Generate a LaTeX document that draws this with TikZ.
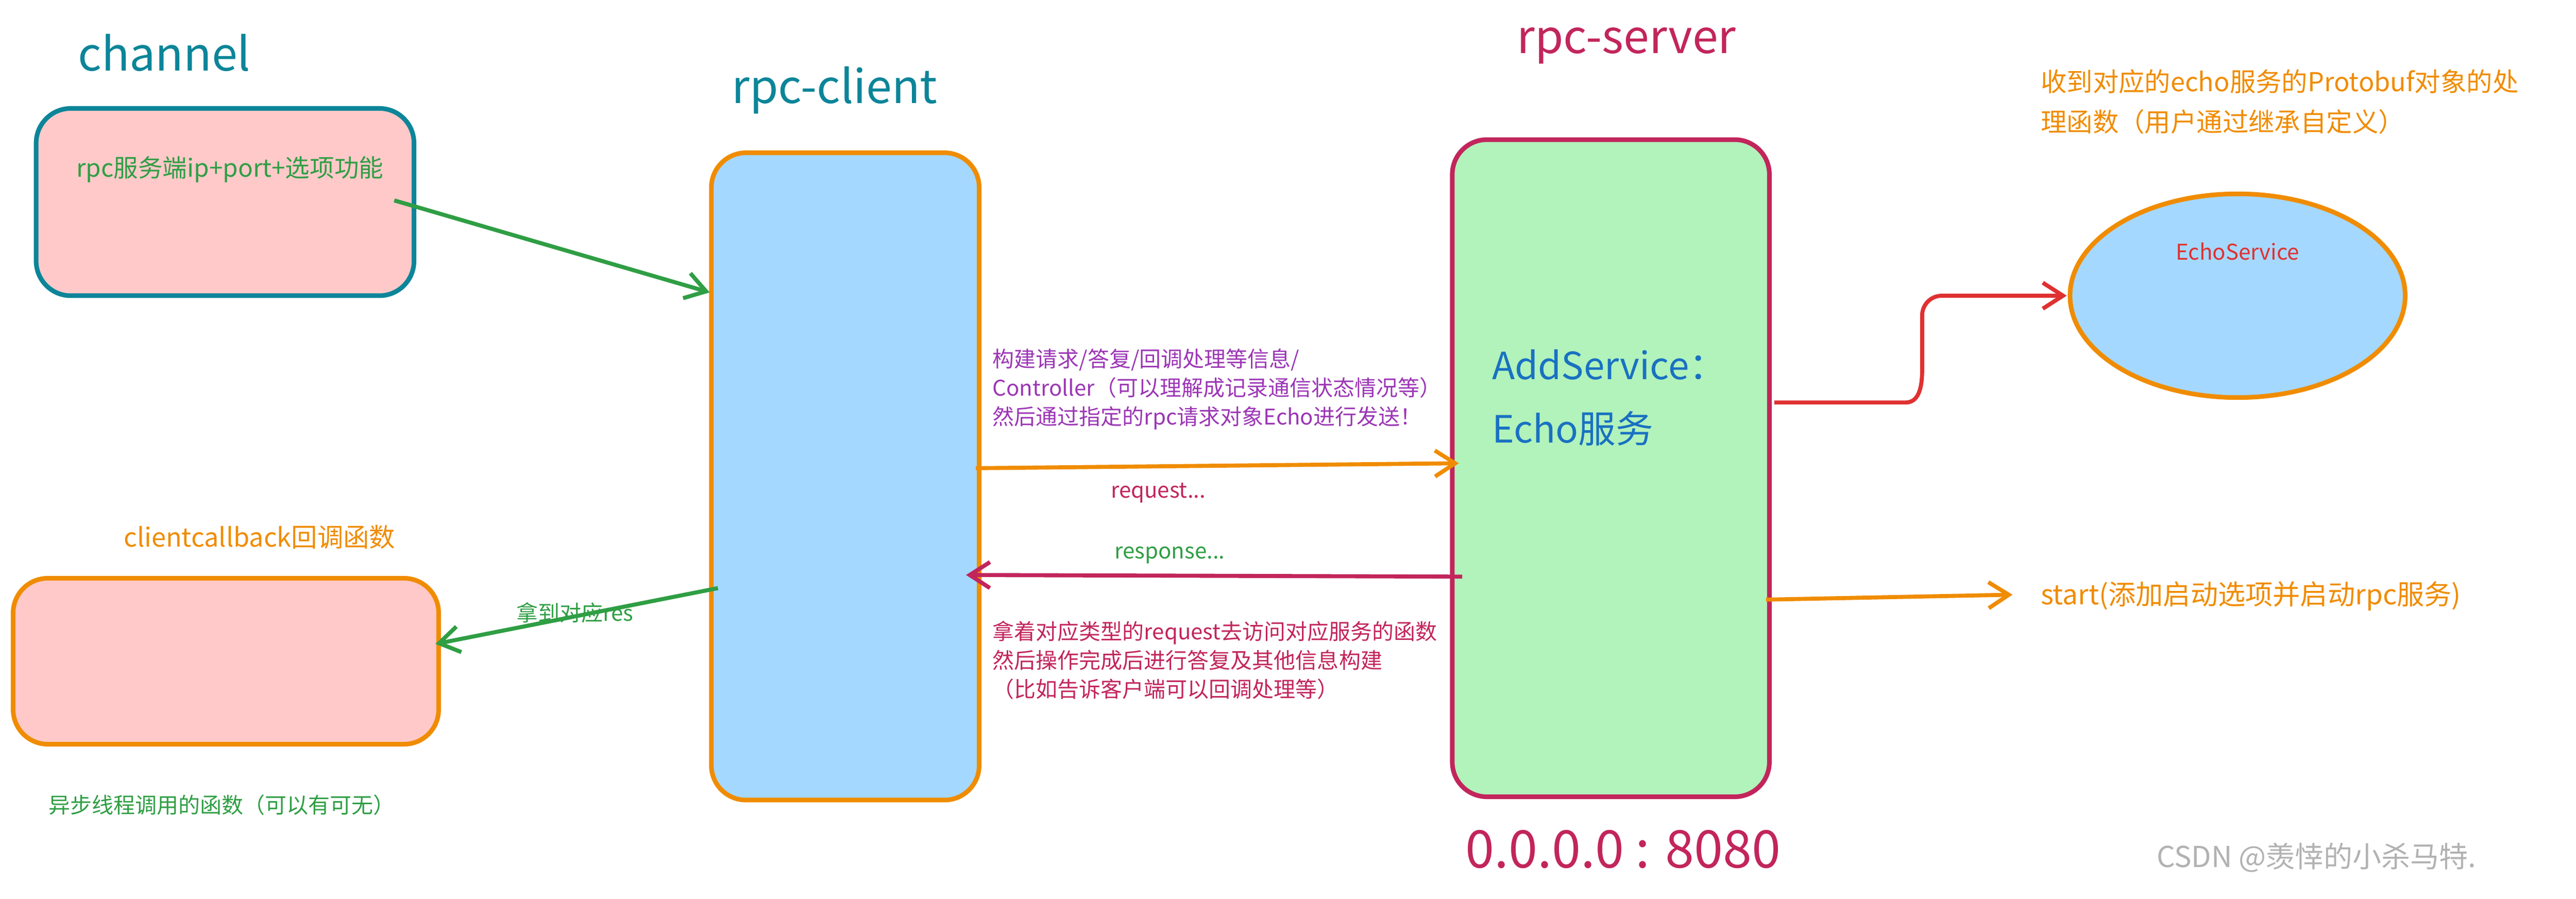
\documentclass[tikz,border=0pt]{standalone}
\usepackage{fontspec}
\setmainfont{Noto Sans CJK SC}
\usetikzlibrary{arrows.meta}
\definecolor{teal}{HTML}{0C8599}
\definecolor{crim}{HTML}{C2255C}
\definecolor{org}{HTML}{F08C00}
\definecolor{grn}{HTML}{2F9E44}
\definecolor{pur}{HTML}{9C36B5}
\definecolor{blu}{HTML}{1971C2}
\definecolor{pinkf}{HTML}{FFC9C9}
\definecolor{bluef}{HTML}{A5D8FF}
\definecolor{grnf}{HTML}{B2F2BB}
\definecolor{redc}{HTML}{E03131}
\begin{document}
\begin{tikzpicture}[x=0.02cm,y=-0.02cm,
  box/.style={draw,line width=1.6pt,rounded corners=12pt},
  arr/.style={line width=1.4pt,-{Straight Barb[length=7pt,width=9pt]}},
  title/.style={font=\fontsize{16}{18}\selectfont},
  small/.style={font=\fontsize{7.5}{10}\selectfont,align=left}]
\useasboundingbox (0,0) rectangle (1568,547);
\node[title,text=teal] (t1) at (100,32) {channel};
\node[title,text=teal] (t2) at (508,55) {rpc-client};
\node[title,text=crim] (t3) at (990,28) {rpc-server};
\draw[box,fill=pinkf,draw=teal] (22,66) rectangle (252,180);
\node[small,text=grn,font=\fontsize{8.5}{10}\selectfont] (ct) at (140,103) {rpc服务端ip+port+选项功能};
\draw[box,fill=bluef,draw=org] (433,93) rectangle (596,487);
\draw[box,fill=grnf,draw=crim] (884,85) rectangle (1077,485);
\node[anchor=west,text=blu,font=\fontsize{13}{22}\selectfont,align=left] (as) at (902,242) {AddService：\\Echo服务};
\node[text=crim,font=\fontsize{18}{20}\selectfont] (ip) at (988,517) {0.0.0.0 : 8080};
\draw[line width=1.6pt,draw=org,fill=bluef] (1362,180) ellipse [x radius=102,y radius=62];
\node[small,text=redc] (es) at (1362,153) {EchoService};
\node[text=org,anchor=west,font=\fontsize{9}{14}\selectfont,align=left] (tr) at (1236,62) {收到对应的echo服务的Protobuf对象的处\\理函数（用户通过继承自定义）};
\coordinate (rs) at (1080,245);
\coordinate (re) at (1258,180);
\draw[arr,draw=redc] (rs) -- (1160,245) to[out=0,in=270] (1170,225) -- (1170,192) to[out=90,in=180] (1182,180) -- (re);
\coordinate (ss) at (1075,365);
\coordinate (se) at (1225,362);
\draw[arr,draw=org] (ss) -- (se);
\node[small,text=org,anchor=west,font=\fontsize{9.5}{10}\selectfont] (st) at (1236,363) {start(添加启动选项并启动rpc服务)};
\coordinate (g1) at (240,122);
\coordinate (g2) at (432,178);
\draw[arr,draw=grn] (g1) -- (g2);
\coordinate (q1) at (594,285);
\coordinate (q2) at (888,282);
\draw[arr,draw=org] (q1) -- (q2);
\node[small,text=crim] (rq) at (705,300) {request...};
\coordinate (p1) at (890,351);
\coordinate (p2) at (588,350);
\draw[arr,draw=crim] (p1) -- (p2);
\node[small,text=grn] (rp) at (712,338) {response...};
\node[small,text=pur,anchor=west] (pt) at (598,237) {构建请求/答复/回调处理等信息/\\Controller（可以理解成记录通信状态情况等）\\然后通过指定的rpc请求对象Echo进行发送！};
\node[small,text=crim,anchor=west] (ctx) at (598,402) {拿着对应类型的request去访问对应服务的函数\\然后操作完成后进行答复及其他信息构建\\（比如告诉客户端可以回调处理等）};
\node[text=org,font=\fontsize{9}{10}\selectfont] (cb) at (158,327) {clientcallback回调函数};
\draw[box,fill=pinkf,draw=org] (8,352) rectangle (267,453);
\coordinate (h1) at (437,358);
\coordinate (h2) at (265,392);
\draw[arr,draw=grn] (h1) -- (h2);
\node[small,text=grn] (nr) at (350,373) {拿到对应res};
\node[small,text=grn] (yb) at (135,490) {异步线程调用的函数（可以有可无）};
\node[text=gray!60,font=\fontsize{10}{12}\selectfont] (wm) at (1410,522) {CSDN @羡悻的小杀马特.};
\end{tikzpicture}
\end{document}
